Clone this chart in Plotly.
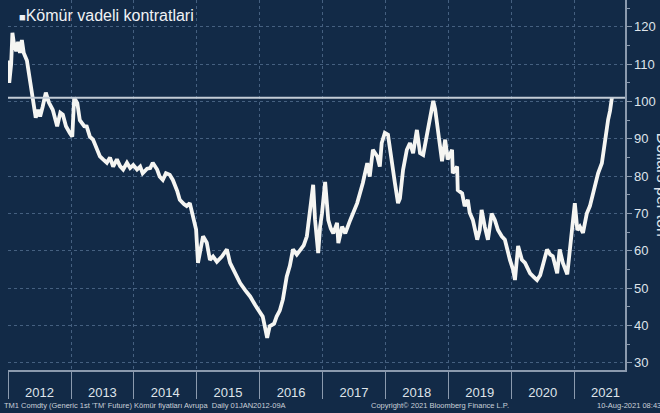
import pandas as pd
import plotly.graph_objects as go

# ---- data (decimal year, price in USD/ton) ----
year_frac = [
    2012.00, 2012.02, 2012.05, 2012.07, 2012.09, 2012.13, 2012.16, 2012.19, 2012.22, 2012.25,
    2012.30, 2012.35, 2012.40, 2012.44, 2012.48, 2012.51, 2012.55, 2012.60, 2012.65, 2012.71,
    2012.78, 2012.83, 2012.87, 2012.92, 2012.98, 2013.02, 2013.05, 2013.10, 2013.14, 2013.21,
    2013.25, 2013.30, 2013.35, 2013.41, 2013.46, 2013.51, 2013.57, 2013.62, 2013.67, 2013.73,
    2013.78, 2013.83, 2013.89, 2013.94, 2013.99, 2014.05, 2014.10, 2014.14, 2014.21, 2014.26,
    2014.30, 2014.37, 2014.41, 2014.46, 2014.51, 2014.57, 2014.62, 2014.69, 2014.73, 2014.80,
    2014.84, 2014.89, 2014.94, 2014.99, 2015.02, 2015.05, 2015.10, 2015.16, 2015.21, 2015.26,
    2015.32, 2015.40, 2015.48, 2015.53, 2015.61, 2015.69, 2015.77, 2015.85, 2015.93, 2016.00,
    2016.05, 2016.08, 2016.12, 2016.16, 2016.23, 2016.27, 2016.32, 2016.37, 2016.43, 2016.48,
    2016.53, 2016.59, 2016.64, 2016.70, 2016.75, 2016.80, 2016.85, 2016.88, 2016.91, 2016.93,
    2016.96, 2016.99, 2017.04, 2017.09, 2017.13, 2017.17, 2017.23, 2017.25, 2017.31, 2017.36,
    2017.44, 2017.55, 2017.64, 2017.71, 2017.75, 2017.80, 2017.87, 2017.91, 2017.94, 2017.99,
    2018.04, 2018.07, 2018.10, 2018.15, 2018.20, 2018.23, 2018.28, 2018.34, 2018.39, 2018.44,
    2018.50, 2018.55, 2018.60, 2018.66, 2018.71, 2018.74, 2018.76, 2018.79, 2018.82, 2018.87,
    2018.90, 2018.95, 2018.99, 2019.06, 2019.07, 2019.14, 2019.15, 2019.22, 2019.26, 2019.31,
    2019.34, 2019.39, 2019.46, 2019.50, 2019.53, 2019.58, 2019.63, 2019.69, 2019.74, 2019.79,
    2019.85, 2019.90, 2019.95, 2019.98, 2020.03, 2020.06, 2020.11, 2020.17, 2020.22, 2020.30,
    2020.36, 2020.41, 2020.46, 2020.50, 2020.57, 2020.62, 2020.66, 2020.70, 2020.73, 2020.77,
    2020.82, 2020.89, 2020.93, 2020.98, 2021.01, 2021.05, 2021.09, 2021.14, 2021.20, 2021.25,
    2021.30, 2021.35, 2021.38, 2021.44, 2021.49, 2021.54, 2021.57, 2021.60,
]
prices = [
    111.0, 105.0, 110.0, 118.4, 116.0, 113.5, 116.0, 113.0, 116.5, 113.0,
    111.0, 105.0, 98.7, 95.7, 97.8, 96.0, 98.6, 102.4, 99.7, 97.8,
    93.4, 97.0, 96.5, 93.4, 91.6, 90.6, 101.0, 99.6, 95.0, 93.4,
    93.3, 90.6, 89.8, 87.1, 85.3, 84.5, 83.6, 85.0, 82.6, 84.5,
    82.7, 81.8, 83.6, 82.2, 83.0, 81.8, 82.6, 80.8, 82.0, 82.2,
    83.6, 81.8, 79.9, 79.0, 80.8, 80.4, 79.0, 76.0, 73.7, 72.5,
    72.0, 72.8, 69.2, 65.7, 56.8, 59.5, 63.9, 62.2, 57.6, 58.5,
    57.1, 58.5, 60.4, 56.8, 54.0, 51.4, 49.5, 47.8, 45.5, 43.4,
    42.4, 40.0, 36.7, 39.8, 40.5, 42.4, 44.0, 47.0, 53.1, 56.0,
    60.4, 59.0, 60.0, 61.5, 63.9, 70.0, 77.7, 68.3, 62.0, 59.4,
    66.5, 70.0, 78.5, 68.3, 66.0, 64.7, 67.5, 62.1, 66.5, 64.7,
    68.3, 72.8, 78.2, 83.5, 79.9, 87.1, 85.3, 82.6, 88.9, 91.6,
    91.1, 88.0, 84.4, 78.2, 72.8, 74.0, 81.7, 87.1, 88.9, 86.2,
    92.4, 86.2, 85.7, 90.7, 95.0, 97.8, 100.2, 98.0, 94.3, 87.1,
    84.0, 89.8, 84.5, 87.1, 80.8, 82.6, 76.3, 75.4, 72.0, 73.7,
    70.2, 68.3, 63.0, 65.6, 71.0, 66.5, 63.0, 70.0, 68.3, 65.6,
    63.9, 63.0, 59.4, 57.6, 55.0, 52.2, 61.3, 57.6, 56.8, 54.0,
    53.0, 52.2, 53.5, 55.8, 60.4, 59.0, 58.6, 56.0, 54.0, 60.4,
    56.8, 53.7, 60.4, 70.2, 72.8, 65.6, 66.5, 64.8, 70.0, 72.0,
    75.4, 78.0, 80.8, 83.5, 89.8, 95.2, 97.5, 101.0,
]
years = [str(y) for y in range(2012, 2022)]
y_ticks = list(range(30, 130, 10))


def frac_to_date(f):
    y = int(f)
    start = pd.Timestamp(year=y, month=1, day=1)
    end = pd.Timestamp(year=y + 1, month=1, day=1)
    return start + (end - start) * (f - y)


dates = [frac_to_date(f) for f in year_frac]
mid_year = [pd.Timestamp(year=int(y), month=7, day=2) for y in years]

BG = "#122a47"
TXT = "#dfe4ea"
AXIS = "#8b9aae"
GRID = "#456080"
FONT = "Liberation Sans"

fig = go.Figure()
fig.add_trace(go.Scatter(
    x=dates, y=prices, mode="lines",
    line=dict(color="#f5f5f2", width=3.8),
    showlegend=False, hoverinfo="skip",
))

# last-price line
fig.add_shape(type="line", xref="paper", x0=0, x1=1, yref="y",
              y0=prices[-1], y1=prices[-1],
              line=dict(color="#c3ccd6", width=2))

fig.update_layout(
    width=660, height=413,
    margin=dict(l=8, r=35, t=0, b=43),
    paper_bgcolor=BG, plot_bgcolor=BG,
    font=dict(family=FONT, color=TXT),
    showlegend=False,
    xaxis=dict(
        type="date",
        range=["2012-01-01", "2021-10-23"],
        tickvals=mid_year, ticktext=years,
        ticks="outside", ticklen=10, tickcolor="rgba(0,0,0,0)",
        tickfont=dict(size=13, color=TXT, family=FONT),
        showgrid=False,
        showline=True, linecolor=AXIS, linewidth=1.5,
        zeroline=False,
        minor=dict(tick0="2012-01-01", dtick="M12", ticks="outside",
                   ticklen=27, tickcolor=AXIS, tickwidth=1,
                   showgrid=True, gridcolor=GRID, griddash="dot", gridwidth=1),
    ),
    yaxis=dict(
        side="right",
        range=[28.1, 127.2],
        tickvals=y_ticks,
        ticks="outside", ticklen=5, tickcolor=AXIS, tickwidth=1,
        tickfont=dict(size=13, color=TXT, family=FONT),
        showline=True, linecolor=AXIS, linewidth=1.5,
        showgrid=True, gridcolor=GRID, griddash="dot", gridwidth=1,
        zeroline=False,
        minor=dict(dtick=5, tick0=0, ticks="outside", ticklen=3,
                   tickcolor=AXIS, showgrid=False),
    ),
)

annotations = [
    dict(text="<span style='font-size:11px'>■</span>Kömür vadeli kontratlari",
         xref="paper", yref="paper", x=0.0146, y=0.957,
         xanchor="left", yanchor="middle", showarrow=False,
         font=dict(size=16, color="#f0f2f5", family=FONT)),
    dict(text="Dollars per ton", xref="paper", yref="paper",
         x=1.062, y=0.50, xanchor="center", yanchor="middle",
         textangle=90, showarrow=False,
         font=dict(size=16, color=TXT, family=FONT)),
    dict(text="TM1 Comdty (Generic 1st 'TM' Future) Kömür fiyatları Avrupa  Daily 01JAN2012-09A",
         xref="paper", yref="paper", x=-0.0097, y=-0.097,
         xanchor="left", yanchor="middle", showarrow=False,
         font=dict(size=7.5, color="#c9d0d9", family=FONT)),
    dict(text="Copyright© 2021 Bloomberg Finance L.P.",
         xref="paper", yref="paper", x=0.700, y=-0.097,
         xanchor="center", yanchor="middle", showarrow=False,
         font=dict(size=7.5, color="#c9d0d9", family=FONT)),
    dict(text="10-Aug-2021 08:43:52",
         xref="paper", yref="paper", x=0.951, y=-0.097,
         xanchor="left", yanchor="middle", showarrow=False,
         font=dict(size=7.5, color="#c9d0d9", family=FONT)),
]
fig.update_layout(annotations=annotations)

fig.write_html(
    "out.html",
    config={"displayModeBar": False, "staticPlot": True},
    post_script="document.body.style.margin='0';document.body.style.padding='0';"
                "document.documentElement.style.overflow='hidden';",
)
